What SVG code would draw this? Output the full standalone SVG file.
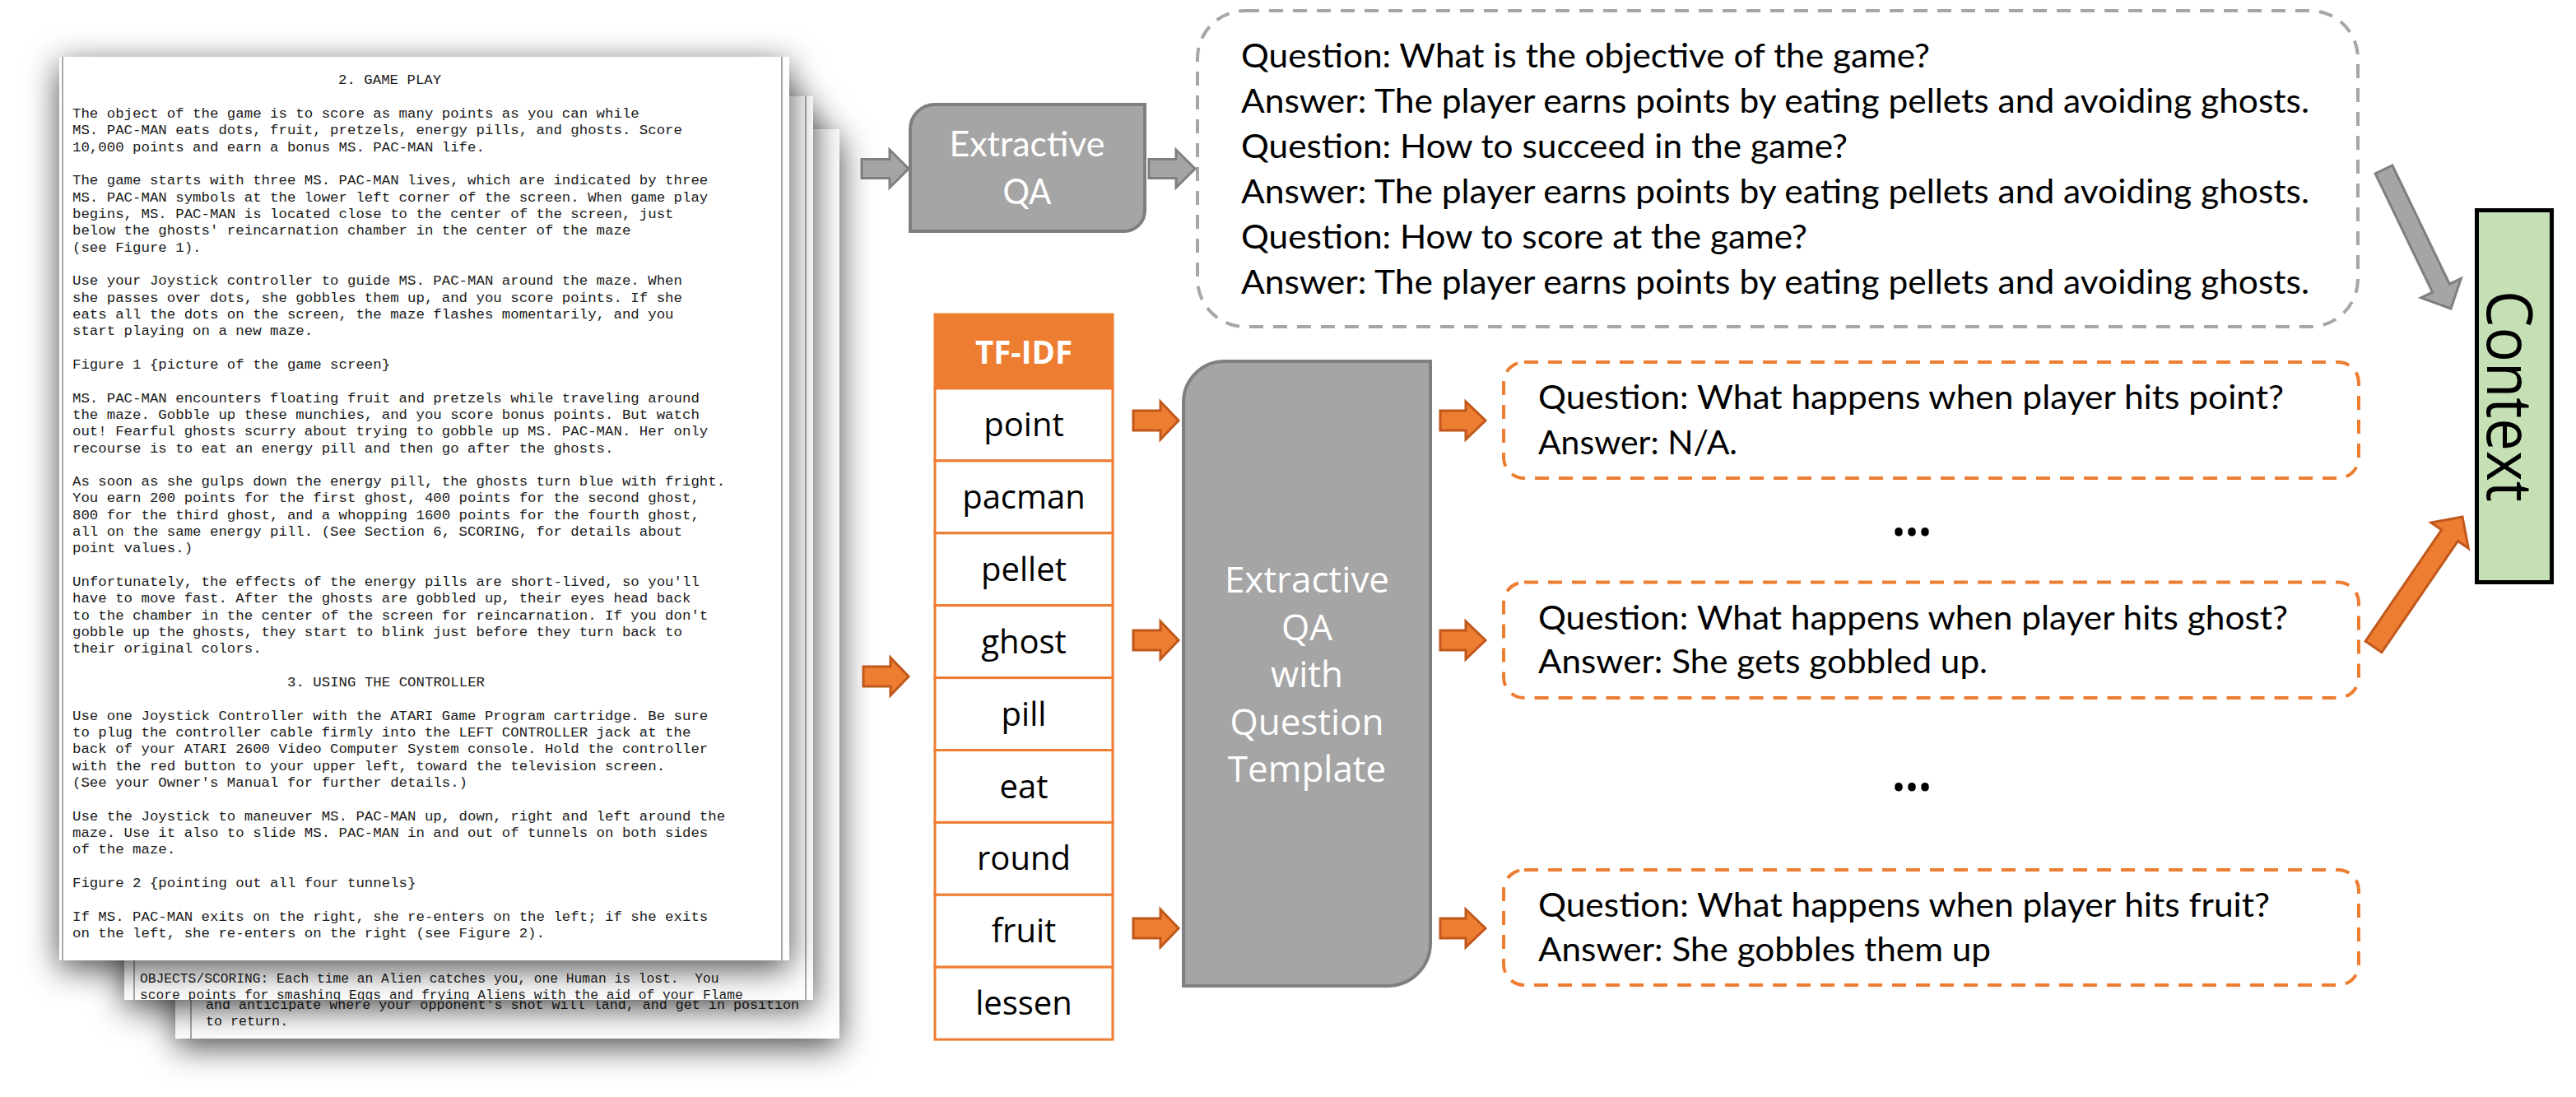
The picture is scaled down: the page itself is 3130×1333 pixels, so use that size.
<svg xmlns="http://www.w3.org/2000/svg" width="3130" height="1333" viewBox="0 0 3130 1333">
<defs>
<filter id="pageShadow" x="-15%" y="-15%" width="135%" height="135%">
<feDropShadow dx="0" dy="10" stdDeviation="20" flood-color="#000" flood-opacity="0.7"/>
</filter>
<clipPath id="clip2"><rect x="151" y="117" width="837" height="1098"/></clipPath>
<clipPath id="clip3"><rect x="213" y="1216" width="807" height="46"/></clipPath>
<style>
.page{fill:#fff;filter:url(#pageShadow)}
.pline{stroke:#8c8c8c;stroke-width:1.5}
.mono{font-family:"Liberation Mono","DejaVu Sans Mono",monospace;fill:#1a1a1a}
.qa{font-family:Lato,"Liberation Sans",sans-serif;font-size:40px;fill:#000}
.gbox{fill:#a5a5a5;stroke:#7f7f7f;stroke-width:4}
.garrow{fill:#a5a5a5;stroke:#7f7f7f;stroke-width:3;stroke-linejoin:miter}
.oarrow{fill:#ed7d31;stroke:#c0581c;stroke-width:3;stroke-linejoin:miter}
.gdash{fill:none;stroke:#a6a6a6;stroke-width:4;stroke-dasharray:17 12}
.odash{fill:none;stroke:#ed7d31;stroke-width:4;stroke-dasharray:17 12}
.cell{fill:#fff;stroke:#ed7d31;stroke-width:3}
.word{font-family:"Open Sans","Noto Sans",sans-serif;font-size:40px;fill:#000;text-anchor:middle}
.wtxt{font-family:"Open Sans","Noto Sans",sans-serif;font-size:44px;fill:#fff;text-anchor:middle}
</style>
</defs>
<rect width="3130" height="1333" fill="#fff"/>

<g id="pages">
<g id="page3">
<rect class="page" x="213" y="157" width="807" height="1105"/>
<line class="pline" x1="232" y1="157" x2="232" y2="1262"/>
<text class="mono" font-size="16.7" clip-path="url(#clip3)" xml:space="preserve"><tspan x="250" y="1226">and anticipate where your opponent's shot will land, and get in position</tspan><tspan x="250" y="1246">to return.</tspan></text>
</g>
<g id="page2">
<rect class="page" x="151" y="117" width="837" height="1098"/>
<line class="pline" x1="163" y1="117" x2="163" y2="1215"/>
<line class="pline" x1="979" y1="117" x2="979" y2="1215"/>
<text class="mono" font-size="16.3" clip-path="url(#clip2)" xml:space="preserve"><tspan x="170" y="1193.5">OBJECTS/SCORING: Each time an Alien catches you, one Human is lost.  You</tspan><tspan x="170" y="1213.5">score points for smashing Eggs and frying Aliens with the aid of your Flame</tspan></text>
</g>
<g id="page1">
<rect class="page" x="72" y="69" width="887" height="1098"/>
<line class="pline" x1="76" y1="69" x2="76" y2="1167"/>
<line class="pline" x1="950" y1="69" x2="950" y2="1167"/>
<text class="mono" font-size="17.4" xml:space="preserve"><tspan x="411" y="102.2">2. GAME PLAY</tspan><tspan x="88" y="142.9">The object of the game is to score as many points as you can while</tspan><tspan x="88" y="163.2">MS. PAC-MAN eats dots, fruit, pretzels, energy pills, and ghosts. Score</tspan><tspan x="88" y="183.5">10,000 points and earn a bonus MS. PAC-MAN life.</tspan><tspan x="88" y="224.2">The game starts with three MS. PAC-MAN lives, which are indicated by three</tspan><tspan x="88" y="244.5">MS. PAC-MAN symbols at the lower left corner of the screen. When game play</tspan><tspan x="88" y="264.8">begins, MS. PAC-MAN is located close to the center of the screen, just</tspan><tspan x="88" y="285.2">below the ghosts' reincarnation chamber in the center of the maze</tspan><tspan x="88" y="305.5">(see Figure 1).</tspan><tspan x="88" y="346.2">Use your Joystick controller to guide MS. PAC-MAN around the maze. When</tspan><tspan x="88" y="366.5">she passes over dots, she gobbles them up, and you score points. If she</tspan><tspan x="88" y="386.8">eats all the dots on the screen, the maze flashes momentarily, and you</tspan><tspan x="88" y="407.2">start playing on a new maze.</tspan><tspan x="88" y="447.8">Figure 1 {picture of the game screen}</tspan><tspan x="88" y="488.5">MS. PAC-MAN encounters floating fruit and pretzels while traveling around</tspan><tspan x="88" y="508.8">the maze. Gobble up these munchies, and you score bonus points. But watch</tspan><tspan x="88" y="529.1">out! Fearful ghosts scurry about trying to gobble up MS. PAC-MAN. Her only</tspan><tspan x="88" y="549.5">recourse is to eat an energy pill and then go after the ghosts.</tspan><tspan x="88" y="590.1">As soon as she gulps down the energy pill, the ghosts turn blue with fright.</tspan><tspan x="88" y="610.4">You earn 200 points for the first ghost, 400 points for the second ghost,</tspan><tspan x="88" y="630.8">800 for the third ghost, and a whopping 1600 points for the fourth ghost,</tspan><tspan x="88" y="651.1">all on the same energy pill. (See Section 6, SCORING, for details about</tspan><tspan x="88" y="671.4">point values.)</tspan><tspan x="88" y="712.1">Unfortunately, the effects of the energy pills are short-lived, so you'll</tspan><tspan x="88" y="732.4">have to move fast. After the ghosts are gobbled up, their eyes head back</tspan><tspan x="88" y="752.8">to the chamber in the center of the screen for reincarnation. If you don't</tspan><tspan x="88" y="773.1">gobble up the ghosts, they start to blink just before they turn back to</tspan><tspan x="88" y="793.4">their original colors.</tspan><tspan x="349" y="834.1">3. USING THE CONTROLLER</tspan><tspan x="88" y="874.7">Use one Joystick Controller with the ATARI Game Program cartridge. Be sure</tspan><tspan x="88" y="895.1">to plug the controller cable firmly into the LEFT CONTROLLER jack at the</tspan><tspan x="88" y="915.4">back of your ATARI 2600 Video Computer System console. Hold the controller</tspan><tspan x="88" y="935.7">with the red button to your upper left, toward the television screen.</tspan><tspan x="88" y="956.1">(See your Owner's Manual for further details.)</tspan><tspan x="88" y="996.7">Use the Joystick to maneuver MS. PAC-MAN up, down, right and left around the</tspan><tspan x="88" y="1017.1">maze. Use it also to slide MS. PAC-MAN in and out of tunnels on both sides</tspan><tspan x="88" y="1037.4">of the maze.</tspan><tspan x="88" y="1078.1">Figure 2 {pointing out all four tunnels}</tspan><tspan x="88" y="1118.7">If MS. PAC-MAN exits on the right, she re-enters on the left; if she exits</tspan><tspan x="88" y="1139.1">on the left, she re-enters on the right (see Figure 2).</tspan></text>
</g>
</g>

<g id="extractive-qa">
<path class="gbox" d="M1106,157 A30,30 0 0 1 1136,127 H1391 V256 A25,25 0 0 1 1366,281 H1106 Z"/>
<text font-family="Lato,'Liberation Sans',sans-serif" font-size="42" fill="#fff" text-anchor="middle"><tspan x="1248" y="190" textLength="189" lengthAdjust="spacingAndGlyphs">Extractive</tspan><tspan x="1248" y="248" textLength="59" lengthAdjust="spacingAndGlyphs">QA</tspan></text>
</g>

<g id="qa-general">
<rect class="gdash" x="1455" y="13" width="1410" height="384" rx="58" ry="58"/>
<text class="qa" x="1508" y="82" textLength="837" lengthAdjust="spacingAndGlyphs">Question: What is the objective of the game?</text>
<text class="qa" x="1508" y="137" textLength="1298" lengthAdjust="spacingAndGlyphs">Answer: The player earns points by eating pellets and avoiding ghosts.</text>
<text class="qa" x="1508" y="192" textLength="737" lengthAdjust="spacingAndGlyphs">Question: How to succeed in the game?</text>
<text class="qa" x="1508" y="247" textLength="1298" lengthAdjust="spacingAndGlyphs">Answer: The player earns points by eating pellets and avoiding ghosts.</text>
<text class="qa" x="1508" y="302" textLength="688" lengthAdjust="spacingAndGlyphs">Question: How to score at the game?</text>
<text class="qa" x="1508" y="357" textLength="1298" lengthAdjust="spacingAndGlyphs">Answer: The player earns points by eating pellets and avoiding ghosts.</text>
</g>

<g id="tfidf">
<rect x="1136" y="382" width="216" height="90" fill="#ed7d31" stroke="#ed7d31" stroke-width="3"/>
<text x="1244" y="441.5" font-family="'Open Sans','Noto Sans',sans-serif" font-weight="bold" font-size="40" fill="#fff" text-anchor="middle" textLength="118" lengthAdjust="spacingAndGlyphs">TF-IDF</text>
<rect class="cell" x="1136" y="472" width="216" height="87.9"/>
<rect class="cell" x="1136" y="559.9" width="216" height="87.9"/>
<rect class="cell" x="1136" y="647.8" width="216" height="87.9"/>
<rect class="cell" x="1136" y="735.7" width="216" height="87.9"/>
<rect class="cell" x="1136" y="823.6" width="216" height="87.9"/>
<rect class="cell" x="1136" y="911.5" width="216" height="87.9"/>
<rect class="cell" x="1136" y="999.4" width="216" height="87.9"/>
<rect class="cell" x="1136" y="1087.3" width="216" height="87.9"/>
<rect class="cell" x="1136" y="1175.2" width="216" height="87.9"/>
<text class="word" x="1244" y="530">point</text>
<text class="word" x="1244" y="617.9">pacman</text>
<text class="word" x="1244" y="705.8">pellet</text>
<text class="word" x="1244" y="793.7">ghost</text>
<text class="word" x="1244" y="881.6">pill</text>
<text class="word" x="1244" y="969.5">eat</text>
<text class="word" x="1244" y="1057.4">round</text>
<text class="word" x="1244" y="1145.3">fruit</text>
<text class="word" x="1244" y="1233.2">lessen</text>
</g>

<g id="extractive-qa-template">
<path class="gbox" d="M1438,489 A50,50 0 0 1 1488,439 H1738 V1146 A52,52 0 0 1 1686,1198 H1438 Z"/>
<text class="wtxt"><tspan x="1588" y="720">Extractive</tspan><tspan x="1588" y="777.5">QA</tspan><tspan x="1588" y="835">with</tspan><tspan x="1588" y="892.5">Question</tspan><tspan x="1588" y="950">Template</tspan></text>
</g>

<g id="qa-point">
<rect class="odash" x="1827" y="440" width="1039" height="141" rx="25" ry="25"/>
<text class="qa" x="1869" y="497" textLength="906" lengthAdjust="spacingAndGlyphs">Question: What happens when player hits point?</text>
<text class="qa" x="1869" y="552" textLength="242" lengthAdjust="spacingAndGlyphs">Answer: N/A.</text>
</g>

<text id="ellipsis-1" x="2323" y="651" font-family="'Open Sans',sans-serif" font-weight="bold" font-size="62" text-anchor="middle" textLength="48" lengthAdjust="spacingAndGlyphs">…</text>

<g id="qa-ghost">
<rect class="odash" x="1827" y="707.5" width="1039" height="140.5" rx="25" ry="25"/>
<text class="qa" x="1869" y="765" textLength="911" lengthAdjust="spacingAndGlyphs">Question: What happens when player hits ghost?</text>
<text class="qa" x="1869" y="818" textLength="546" lengthAdjust="spacingAndGlyphs">Answer: She gets gobbled up.</text>
</g>

<text id="ellipsis-2" x="2323" y="961" font-family="'Open Sans',sans-serif" font-weight="bold" font-size="62" text-anchor="middle" textLength="48" lengthAdjust="spacingAndGlyphs">…</text>

<g id="qa-fruit">
<rect class="odash" x="1827" y="1057" width="1039" height="140" rx="25" ry="25"/>
<text class="qa" x="1869" y="1114" textLength="889" lengthAdjust="spacingAndGlyphs">Question: What happens when player hits fruit?</text>
<text class="qa" x="1869" y="1168" textLength="550" lengthAdjust="spacingAndGlyphs">Answer: She gobbles them up</text>
</g>

<g id="context">
<rect x="3009.5" y="255.5" width="91" height="452" fill="#c5e0b4" stroke="#000" stroke-width="5"/>
<text transform="translate(3055,481.5) rotate(90)" x="0" y="33" font-family="'Open Sans','Noto Sans',sans-serif" font-size="77" fill="#000" text-anchor="middle" textLength="257" lengthAdjust="spacingAndGlyphs">Context</text>
</g>

<g id="connectors">
<polygon class="garrow" points="1047,193.5 1081,193.5 1081,182 1104,205 1081,228 1081,216.5 1047,216.5"/>
<polygon class="garrow" points="1396,193.5 1429,193.5 1429,182 1452,205 1429,228 1429,216.5 1396,216.5"/>
<polygon class="garrow" transform="translate(2896.5,206) rotate(64.26)" points="0,-11.5 160,-11.5 160,-27 187.6,0 160,27 160,11.5 0,11.5"/>
<polygon class="oarrow" points="1049,810 1082,810 1082,799 1104,822 1082,845 1082,834 1049,834"/>
<polygon class="oarrow" points="1377,499 1410,499 1410,488 1432,511 1410,534 1410,523 1377,523"/>
<polygon class="oarrow" points="1377,766 1410,766 1410,755 1432,778 1410,801 1410,790 1377,790"/>
<polygon class="oarrow" points="1377,1116 1410,1116 1410,1105 1432,1128 1410,1151 1410,1140 1377,1140"/>
<polygon class="oarrow" points="1750,499 1781,499 1781,488 1805,511 1781,534 1781,523 1750,523"/>
<polygon class="oarrow" points="1750,766 1781,766 1781,755 1805,778 1781,801 1781,790 1750,790"/>
<polygon class="oarrow" points="1750,1116 1781,1116 1781,1105 1805,1128 1781,1151 1781,1140 1750,1140"/>
<polygon class="oarrow" transform="translate(2884,786) rotate(-55.64)" points="0,-12 164,-12 164,-27.5 191.4,0 164,27.5 164,12 0,12"/>
</g>
</svg>
